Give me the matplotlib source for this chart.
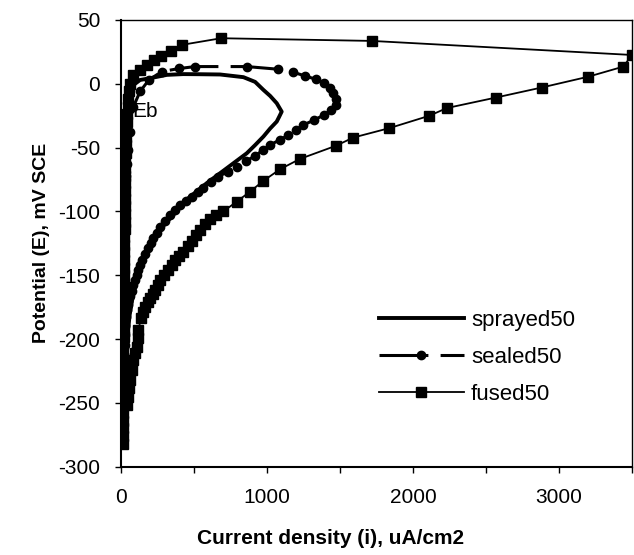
import matplotlib
matplotlib.use('Agg')
from matplotlib import pyplot as plt
from matplotlib.ticker import MultipleLocator

plt.rcParams['font.family'] = ['Liberation Sans', 'DejaVu Sans']
plt.rcParams['axes.unicode_minus'] = False

# sprayed50 (line only)
sprayed_i = [8, 9, 10, 12, 14, 18, 25, 40, 60, 84, 130, 199, 313, 425, 541, 678, 838, 918,
             975, 1021, 1066, 1100, 1082, 1066, 1021, 975, 918, 861, 724, 587, 461, 347,
             260, 190, 130, 90, 60, 40, 25, 15]
sprayed_E = [-268, -240, -210, -180, -150, -110, -75, -40, -15, -1, 3, 4.4, 7, 7.6, 7.5,
             7.3, 5.2, 1.5, -4.8, -9.5, -15.2, -21.8, -26, -29.6, -35, -41.3, -48, -54.4,
             -66.1, -77.8, -89.6, -104, -115, -128, -145, -160, -180, -200, -230, -260]

# sealed50 (line + circles)
sealed_i = [5, 5, 6, 6, 7, 7, 8, 8, 9, 9, 10, 10, 11, 11, 12, 12, 13, 14, 15, 16, 17, 18,
            20, 22, 24, 27, 30, 34, 40, 48, 60, 84, 130, 190, 279, 400, 507,
            861, 1078, 1180, 1260, 1335, 1390, 1430, 1454, 1470, 1473, 1440, 1390, 1320,
            1249, 1200, 1146, 1085, 1021, 970, 918, 855, 792, 730, 666, 615, 564, 524,
            484, 444, 404, 370, 336, 300, 267, 244, 221, 204, 187, 165, 142, 130, 119,
            107, 96, 84, 73, 62, 50, 45, 40, 35, 30, 27, 25, 22, 20, 17, 15]
sealed_E = [-262, -255, -248, -241, -234, -227, -220, -213, -206, -199, -192, -185, -178,
            -171, -164, -157, -150, -143, -136, -129, -122, -115, -108, -101, -94, -87,
            -80, -72, -63, -52, -38, -18, -6, 3, 9.6, 12, 13.5,
            13.5, 11.4, 9, 6.2, 3.5, 1, -3, -7.4, -12, -16.5, -20.5, -24.4, -28.5, -32.2,
            -36, -40, -44, -47.9, -52, -56.5, -60.5, -64.9, -69, -72.7, -77, -81.8, -85,
            -88.3, -91.5, -95, -99, -103, -107.5, -112, -116.5, -121, -125, -129, -133.5,
            -138, -142, -146, -150, -154, -158, -162, -166, -170, -173.5, -177, -183,
            -190, -197, -205, -212, -220, -230, -240]

# fused50 (line + squares)
fused_i = [10, 10, 11, 11, 12, 12, 13, 13, 14, 14, 15, 15, 16, 16, 17, 17, 18, 18, 19, 19,
           20, 20, 21, 21, 22, 22, 23, 23, 24, 24, 25, 25, 26, 26, 27, 28, 29, 30, 31, 32,
           34, 36, 38, 41, 45, 50, 56, 64, 84, 130, 176, 222, 274, 340, 416, 685, 1717,
           3498, 3441, 3201, 2881, 2566, 2231, 2112, 1838, 1591, 1470, 1226, 1089, 975, 884,
           792, 700, 650, 610, 575, 541, 515, 488, 455, 427, 398, 370, 347, 324, 295, 267,
           250, 233, 216, 199, 182, 164, 153, 136, 119, 113, 107, 95, 84, 73, 62, 56, 50, 43]
fused_E = [-282, -276, -270, -264, -258, -252, -246, -240, -234, -228, -222, -216, -210,
           -204, -198, -192, -186, -180, -174, -168, -162, -156, -150, -144, -138, -132,
           -126, -120, -114, -108, -102, -96, -90, -84, -78, -72, -66, -60, -54, -48, -42,
           -36, -30, -24, -18, -12, -6, 0, 7, 11, 15, 18.5, 22, 26, 30.5, 35.7, 33.6,
           22.6, 13.5, 5.6, -2.9, -10.8, -19, -25, -34.7, -42.1, -48.6, -58.8, -66.9, -76,
           -84.4, -92.3, -100, -103, -106, -110, -114.4, -118.5, -122.8, -127, -131.4,
           -135, -138.4, -142, -145.7, -149.5, -153.6, -157.5, -161.4, -164.5, -167.9,
           -171, -174.5, -179, -183.6, -192.7, -199, -205.8, -211, -216, -224, -231.9,
           -238, -245, -252]

fig = plt.figure(figsize=(6.34, 5.55), dpi=100)
ax = fig.add_axes([0.191, 0.159, 0.806, 0.805])

ax.plot(sprayed_i, sprayed_E, color='black', lw=2.8, label='sprayed50')
ax.plot(sealed_i, sealed_E, color='black', lw=2.2, ls=(0, (16, 4)),
        marker='o', ms=6, label='sealed50')
ax.plot(fused_i, fused_E, color='black', lw=1.3, marker='s', ms=7.5, label='fused50')

ax.text(73, -22, 'Eb', fontsize=15, va='center', ha='left')

ax.set_xlim(0, 3500)
ax.set_ylim(-300, 50)
ax.xaxis.set_major_locator(MultipleLocator(1000))
ax.xaxis.set_minor_locator(MultipleLocator(500))
ax.yaxis.set_major_locator(MultipleLocator(50))
ax.tick_params(which='both', direction='out', length=4, width=1, labelsize=15, pad=11)
for s in ['left', 'bottom']:
    ax.spines[s].set_linewidth(1.5)
for s in ['top', 'right']:
    ax.spines[s].set_linewidth(1.0)

ax.set_xlabel('Current density (i), uA/cm2', fontsize=15, fontweight='bold')
ax.xaxis.set_label_coords(0.41, -0.14)
ax.set_ylabel('Potential (E), mV SCE', fontsize=14, fontweight='bold')
ax.yaxis.set_label_coords(-0.14, 0.5)

ax.legend(loc='center left', bbox_to_anchor=(0.465, 0.245), frameon=False, fontsize=16,
          handlelength=3.85, handletextpad=0.3, labelspacing=0.72)

fig.savefig('out.png', dpi=100)
